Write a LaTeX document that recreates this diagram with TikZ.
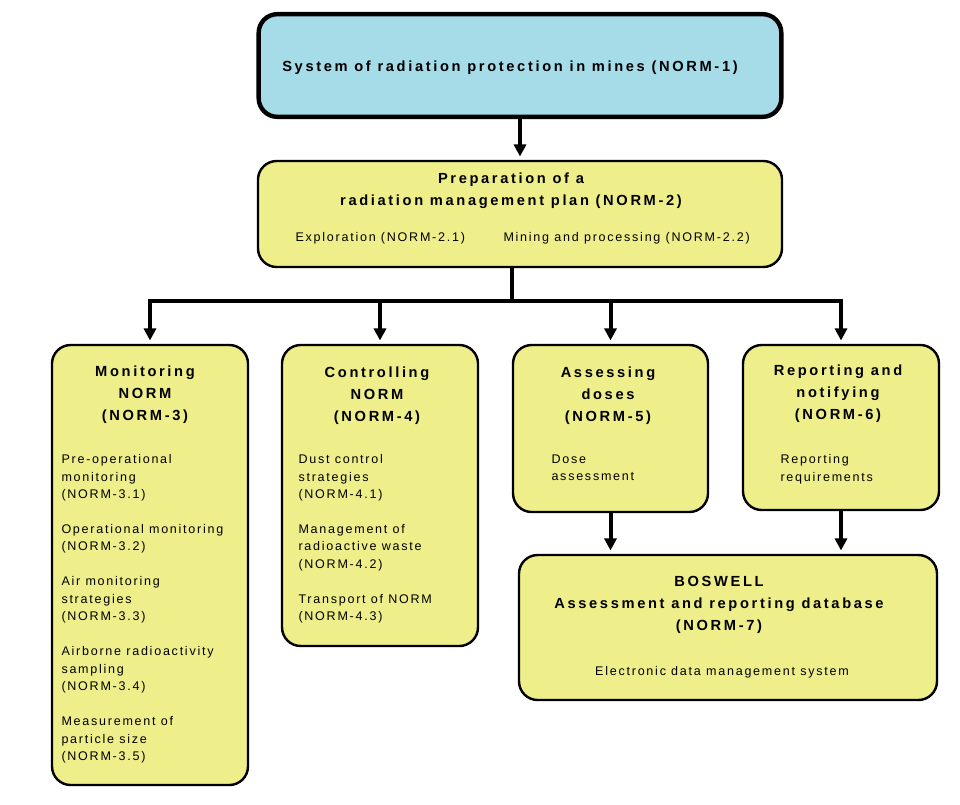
\documentclass[tikz,border=0pt]{standalone}
\usepackage{fontspec}
\usetikzlibrary{arrows.meta}
\setmainfont{Liberation Sans}
\newfontfamily\headfont[LetterSpace=18]{Liberation Sans}
\newfontfamily\bodyfont[LetterSpace=14]{Liberation Sans}
\definecolor{boxyellow}{RGB}{238,238,138}
\definecolor{boxblue}{RGB}{166,220,232}

\tikzset{every picture/.style={line width=0.75pt}}
\tikzset{
  box/.style={draw, rounded corners=14pt, fill=boxyellow, line width=1.8pt, inner sep=0pt},
  headtext/.style={inner sep=0pt, anchor=north, align=center, font=\headfont\bfseries\fontsize{11}{16.5}\selectfont},
  bodytext/.style={inner sep=0pt, anchor=north west, align=left, font=\bodyfont\fontsize{9.4}{13.1}\selectfont},
  link/.style={line width=3pt},
  arr/.style={line width=3pt, -{Triangle[width=9pt,length=9pt]}, shorten >=2.5pt},
}

\begin{document}
\begin{tikzpicture}[x=0.75pt,y=0.75pt,yscale=-1,xscale=1]
\useasboundingbox (0,0) rectangle (960,804);

%Shape: Rounded Rect (top)
\node[box, fill=boxblue, line width=3.3pt, minimum width=392pt, minimum height=77pt] (sys) at (520,65.5) {};
%Shape: Rounded Rect (plan)
\node[box, minimum width=393pt, minimum height=79.5pt] (prep) at (520,214) {};
%Shape: Rounded Rect (four branches)
\node[box, minimum width=147pt, minimum height=330pt] (mon) at (150,565) {};
\node[box, minimum width=147pt, minimum height=225.75pt] (ctl) at (380,495.5) {};
\node[box, minimum width=146.25pt, minimum height=125.25pt] (ass) at (610.5,428.5) {};
\node[box, minimum width=147pt, minimum height=123.75pt] (rep) at (841,427.5) {};
%Shape: Rounded Rect (database)
\node[box, minimum width=313.5pt, minimum height=108.75pt] (bos) at (728,627.5) {};

%Straight Lines
\coordinate (bus) at (512,301);
\draw[arr] (sys.south) -- (sys.south |- prep.north);
\draw[link] (bus |- prep.south) -- (bus);
\draw[arr] (bus) -| (mon.north);
\draw[arr] (bus) -| (ctl.north);
\draw[arr] (bus) -| (ass.north);
\draw[arr] (bus) -| (rep.north);
\draw[arr] (ass.south) -- (ass.south |- bos.north);
\draw[arr] (rep.south) -- (rep.south |- bos.north);

% Text Node
\node[headtext] (sysT) at (510,60) {System of radiation protection in mines (NORM-1)};
% Text Node
\node[headtext] (prepT) at (511,172) {Preparation of a\\radiation management plan (NORM-2)};
\node[bodytext] (prepA) at (295,232) {Exploration (NORM-2.1)};
\node[bodytext] (prepB) at (503,232) {Mining and processing (NORM-2.2)};
% Text Node
\node[headtext] (monT) at (145,365) {Monitoring\\NORM\\(NORM-3)};
\node[bodytext] (monB) at (61,454) {Pre-operational\\monitoring\\(NORM-3.1)\\[13.1pt]Operational monitoring\\(NORM-3.2)\\[13.1pt]Air monitoring\\strategies\\(NORM-3.3)\\[13.1pt]Airborne radioactivity\\sampling\\(NORM-3.4)\\[13.1pt]Measurement of\\particle size\\(NORM-3.5)};
% Text Node
\node[headtext] (ctlT) at (377,366) {Controlling\\NORM\\(NORM-4)};
\node[bodytext] (ctlB) at (298,454) {Dust control\\strategies\\(NORM-4.1)\\[13.1pt]Management of\\radioactive waste\\(NORM-4.2)\\[13.1pt]Transport of NORM\\(NORM-4.3)};
% Text Node
\node[headtext] (assT) at (608,366) {Assessing\\doses\\(NORM-5)};
\node[bodytext] (assB) at (551,454) {Dose\\assessment};
% Text Node
\node[headtext] (repT) at (838,364) {Reporting and\\notifying\\(NORM-6)};
\node[bodytext] (repB) at (780,454) {Reporting\\requirements};
% Text Node
\node[headtext] (bosT) at (719,576) {BOSWELL\\Assessment and reporting database\\(NORM-7)};
\node[bodytext, anchor=north] (bosB) at (722,666) {Electronic data management system};

\end{tikzpicture}
\end{document}
